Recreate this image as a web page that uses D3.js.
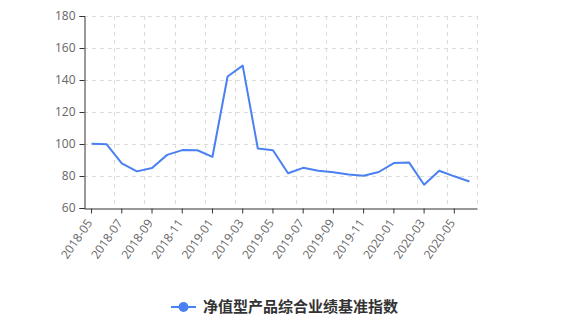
<!DOCTYPE html>
<html lang="zh">
<head>
<meta charset="utf-8">
<title>净值型产品综合业绩基准指数</title>
<script src="https://d3js.org/d3.v7.min.js"></script>
<style>
  body { margin: 0; background: #fff; }
  text { font-family: "Open Sans", "Noto Sans", sans-serif; }
</style>
</head>
<body>
<script>
// data
var months = ["2018-05","2018-06","2018-07","2018-08","2018-09","2018-10","2018-11","2018-12",
              "2019-01","2019-02","2019-03","2019-04","2019-05","2019-06","2019-07","2019-08",
              "2019-09","2019-10","2019-11","2019-12","2020-01","2020-02","2020-03","2020-04",
              "2020-05","2020-06"];
var values = [100.2, 99.8, 87.9, 82.9, 85.0, 93.2, 96.2, 96.1, 92.0, 142.2, 149.0, 97.2, 96.1,
              81.7, 85.1, 83.3, 82.3, 81.0, 80.1, 82.5, 88.1, 88.5, 74.5, 83.3, 79.8, 76.6];
var yTicks = [60, 80, 100, 120, 140, 160, 180];
var seriesName = "净值型产品综合业绩基准指数";

var w = 561, h = 321;
var margin = {top: 16, right: 84, bottom: 113, left: 84};
var color = "#4a80f2";

var svg = d3.select("body").append("svg")
  .attr("width", w)
  .attr("height", h);

var x = d3.scaleBand()
  .domain(months)
  .range([margin.left, w - margin.right])
  .padding(0);

var y = d3.scaleLinear()
  .domain([60, 180])
  .range([h - margin.bottom, margin.top]);

var labelled = months.filter(function(d, i) { return i % 2 === 0; });

// grid
var grid = svg.append("g")
  .attr("stroke", "#dcdcdc")
  .attr("stroke-dasharray", "4,4")
  .attr("fill", "none");

grid.selectAll(".hgrid")
  .data(yTicks.slice(1))
  .enter().append("line")
  .attr("x1", margin.left)
  .attr("x2", w - margin.right)
  .attr("y1", function(d) { return Math.round(y(d)) + 0.5; })
  .attr("y2", function(d) { return Math.round(y(d)) + 0.5; });

var vgrid = labelled.map(function(d) { return x(d); }).slice(1);
vgrid.push(w - margin.right);
grid.selectAll(".vgrid")
  .data(vgrid)
  .enter().append("line")
  .attr("x1", function(d) { return Math.round(d) + 0.5; })
  .attr("x2", function(d) { return Math.round(d) + 0.5; })
  .attr("y1", margin.top)
  .attr("y2", h - margin.bottom);

// y axis
var yAxis = svg.append("g")
  .attr("transform", "translate(" + (margin.left + 0.5) + ",0)")
  .call(d3.axisLeft(y).tickValues(yTicks).tickSize(5).tickPadding(4));
yAxis.select(".domain").attr("stroke", "#333");
yAxis.selectAll(".tick line").attr("stroke", "#333");
yAxis.selectAll("text").attr("fill", "#666").style("font-size", "12px");

// x axis
var xAxis = svg.append("g")
  .attr("transform", "translate(0," + (h - margin.bottom + 0.5) + ")")
  .call(d3.axisBottom(x).tickValues(labelled).tickSize(5).tickSizeOuter(0));
xAxis.select(".domain").attr("stroke", "#333");
xAxis.selectAll(".tick line").attr("stroke", "#333");
xAxis.selectAll("text")
  .attr("fill", "#666")
  .style("font-size", "12px")
  .attr("text-anchor", "end")
  .attr("dy", "0.35em")
  .attr("x", 0)
  .attr("y", 0)
  .attr("transform", "translate(-2,12) rotate(-55)");

// line
var line = d3.line()
  .x(function(d, i) { return x(months[i]) + x.bandwidth() / 2; })
  .y(function(d) { return y(d); });

svg.append("path")
  .datum(values)
  .attr("fill", "none")
  .attr("stroke", color)
  .attr("stroke-width", 2)
  .attr("stroke-linejoin", "round")
  .attr("d", line);

// legend
var legend = svg.append("g").attr("transform", "translate(171,307)");
legend.append("line")
  .attr("x1", 0).attr("x2", 25)
  .attr("y1", 0).attr("y2", 0)
  .attr("stroke", color)
  .attr("stroke-width", 2);
legend.append("circle")
  .attr("cx", 12.5).attr("cy", 0).attr("r", 5)
  .attr("fill", color);
legend.append("text")
  .attr("x", 32)
  .attr("y", 0)
  .attr("dy", "0.35em")
  .attr("fill", "#333")
  .style("font-family", "'Noto Sans CJK SC', sans-serif")
  .style("font-size", "15px")
  .style("font-weight", "bold")
  .text(seriesName);
</script>
</body>
</html>
